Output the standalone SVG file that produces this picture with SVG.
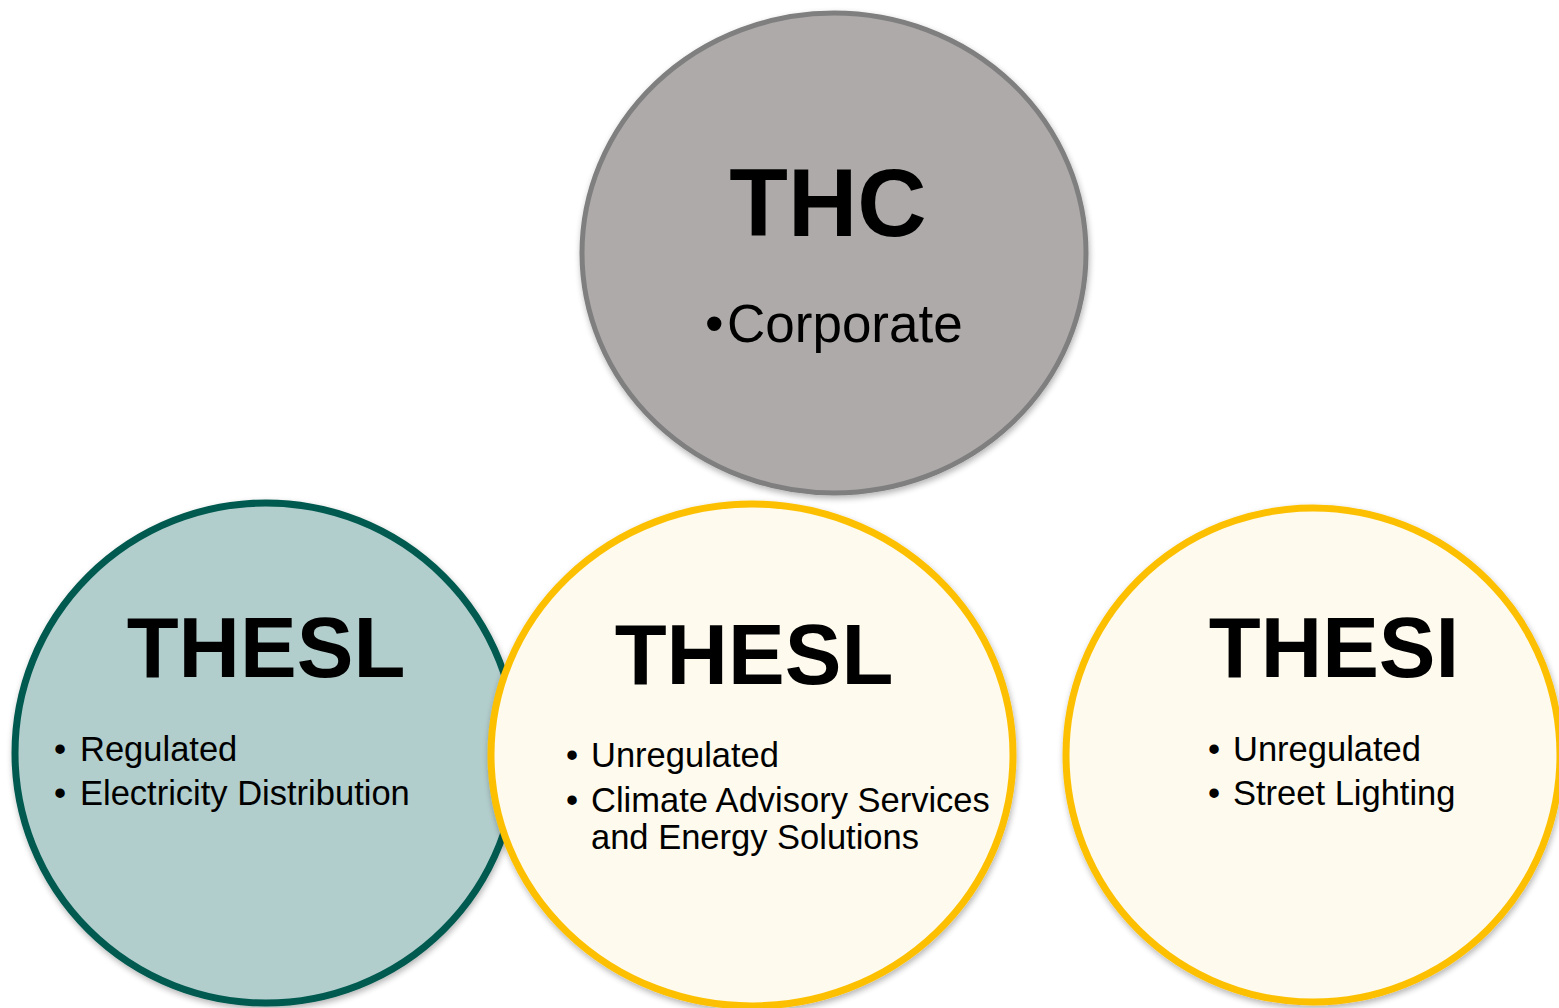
<svg xmlns="http://www.w3.org/2000/svg" width="1559" height="1008" viewBox="0 0 1559 1008">
<style>
text{font-family:"Liberation Sans",Arial,sans-serif;fill:#000}
.h{font-weight:bold;font-size:85px;text-anchor:middle}
.b{font-size:34.5px}
.thc{fill:#aeaaa9;stroke:#7f7f7f;stroke-width:5}
.teal{fill:#b1cdcc;stroke:#005a50;stroke-width:7}
.yel{fill:#fefaee;stroke:#fdc000;stroke-width:7}
</style>
<defs>
<filter id="sh" x="-10%" y="-10%" width="120%" height="120%">
<feGaussianBlur in="SourceAlpha" stdDeviation="3"/>
<feOffset dx="1" dy="3" result="o"/>
<feComponentTransfer><feFuncA type="linear" slope="0.3"/></feComponentTransfer>
<feMerge><feMergeNode/><feMergeNode in="SourceGraphic"/></feMerge>
</filter>
</defs>
<rect width="1559" height="1008" fill="#fff"/>
<g id="connectors"></g>
<g id="thc">
<ellipse class="thc" cx="834" cy="253" rx="252" ry="240" filter="url(#sh)"/>
<text class="h" x="828" y="236" style="font-size:96px">THC</text>
<text x="705" y="342" style="font-size:53px">•</text>
<text x="727" y="342" style="font-size:53px">Corporate</text>
</g>
<g id="thesl-regulated">
<ellipse class="teal" cx="266" cy="753" rx="251" ry="250" filter="url(#sh)"/>
<text class="h" x="266" y="677">THESL</text>
<text class="b" x="54" y="761">•</text>
<text class="b" x="80" y="761">Regulated</text>
<text class="b" x="54" y="805">•</text>
<text class="b" x="80" y="805">Electricity Distribution</text>
</g>
<g id="thesl-unregulated">
<ellipse class="yel" cx="752" cy="755" rx="261" ry="251" filter="url(#sh)"/>
<text class="h" x="754" y="684">THESL</text>
<text class="b" x="566" y="767">•</text>
<text class="b" x="591" y="767">Unregulated</text>
<text class="b" x="566" y="812">•</text>
<text class="b" x="591" y="812">Climate Advisory Services</text>
<text class="b" x="591" y="849">and Energy Solutions</text>
</g>
<g id="thesi">
<ellipse class="yel" cx="1313" cy="755" rx="247" ry="247" filter="url(#sh)"/>
<text class="h" x="1334" y="677">THESI</text>
<text class="b" x="1208" y="761">•</text>
<text class="b" x="1233" y="761">Unregulated</text>
<text class="b" x="1208" y="805">•</text>
<text class="b" x="1233" y="805">Street Lighting</text>
</g>
</svg>
